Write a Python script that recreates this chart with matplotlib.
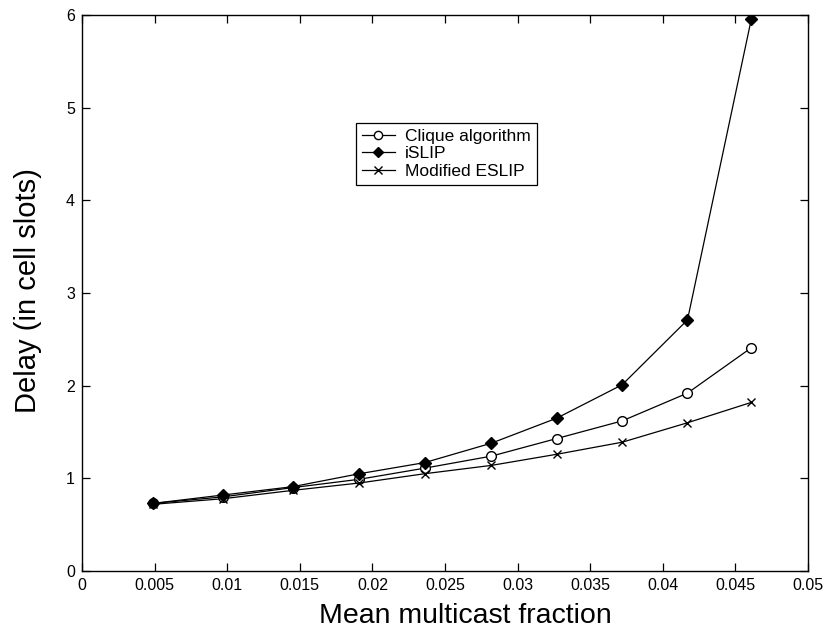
import numpy as np
import matplotlib
matplotlib.use('Agg')
from matplotlib import pyplot as plt

# mean multicast fraction at each simulated point
frac = [0.0049, 0.0097, 0.0145, 0.0191, 0.0236, 0.0282, 0.0327, 0.0372, 0.0417, 0.0461]

clique = [0.73, 0.80, 0.90, 0.99, 1.11, 1.24, 1.43, 1.62, 1.92, 2.41]
islip = [0.73, 0.82, 0.91, 1.05, 1.17, 1.38, 1.65, 2.01, 2.71, 5.96]
eslip = [0.72, 0.78, 0.87, 0.95, 1.05, 1.14, 1.26, 1.39, 1.60, 1.82]

labels = ['Clique algorithm', 'iSLIP', 'Modified ESLIP']
xticks = [0, 0.005, 0.01, 0.015, 0.02, 0.025, 0.03, 0.035, 0.04, 0.045, 0.05]
xticklabels = ['0', '0.005', '0.01', '0.015', '0.02', '0.025', '0.03', '0.035', '0.04', '0.045', '0.05']
yticks = [0, 1, 2, 3, 4, 5, 6]

plt.rcParams['font.family'] = ['Liberation Sans', 'DejaVu Sans']

fig = plt.figure(figsize=(8.25, 6.39), dpi=100)
ax = fig.add_axes([0.0994, 0.1064, 0.8800, 0.8700])

ax.plot(frac, clique, '-o', color='k', lw=0.9, ms=7, mfc='white', mec='k', mew=1.0, label=labels[0])
ax.plot(frac, islip, '-D', color='k', lw=0.9, ms=6.5, mfc='k', mec='k', label=labels[1])
ax.plot(frac, eslip, '-x', color='k', lw=0.9, ms=6, mew=1.0, label=labels[2])

ax.set_xlim(0, 0.05)
ax.set_ylim(0, 6)
ax.set_xticks(xticks)
ax.set_xticklabels(xticklabels)
ax.set_yticks(yticks)
ax.tick_params(direction='in', length=6, width=0.9, labelsize=11.5,
               top=True, right=True, pad=5)
for s in ax.spines.values():
    s.set_linewidth(1.0)

ax.set_xlabel('Mean multicast fraction', fontsize=20.5)
ax.xaxis.set_label_coords(0.5275, -0.058)
ax.set_ylabel('Delay (in cell slots)', fontsize=21)
ax.yaxis.set_label_coords(-0.055, 0.505)

leg = ax.legend(loc='upper left', bbox_to_anchor=(0.377, 0.806), fontsize=12.5,
                frameon=True, fancybox=False, edgecolor='k', framealpha=1,
                handlelength=1.9, handletextpad=0.6, borderpad=0.35,
                labelspacing=0.12, borderaxespad=0, markerscale=0.85)
leg.get_frame().set_linewidth(0.9)

plt.savefig('out.png', dpi=100)
plt.close()
